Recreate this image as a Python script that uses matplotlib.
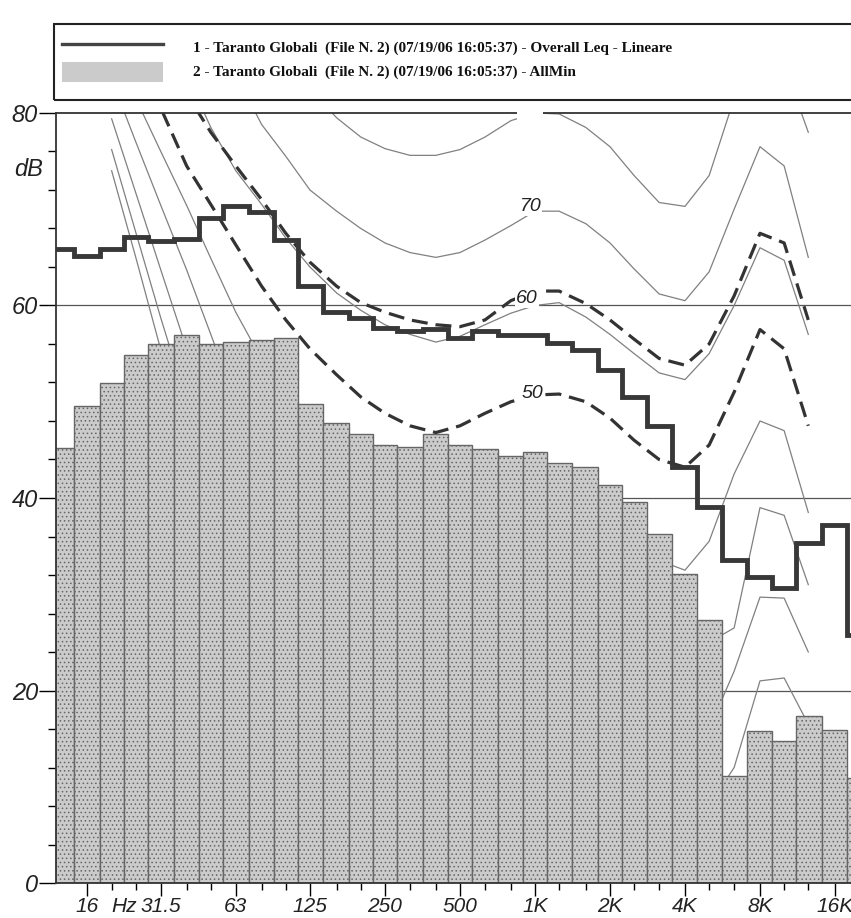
import matplotlib.pyplot as plt
import numpy as np
from matplotlib.patches import Rectangle
from matplotlib.lines import Line2D
from matplotlib.ticker import FixedLocator, NullFormatter

# third-octave bands (nominal centres, Hz)
bands = [12.5, 16, 20, 25, 31.5, 40, 50, 63, 80, 100, 125, 160, 200, 250, 315,
         400, 500, 630, 800, 1000, 1250, 1600, 2000, 2500, 3150, 4000, 5000,
         6300, 8000, 10000, 12500, 16000, 20000]

# 2 - AllMin (bars), dB
allmin = [45.2, 49.6, 51.9, 54.9, 56.0, 56.9, 56.0, 56.2, 56.4, 56.6, 49.8, 47.8,
          46.6, 45.5, 45.3, 46.7, 45.5, 45.1, 44.4, 44.8, 43.6, 43.2, 41.3, 39.6,
          36.3, 32.1, 27.3, 11.1, 15.8, 14.8, 17.4, 15.9, 10.9]

# 1 - Overall Leq - Lineare (step line), dB
leq = [65.9, 65.1, 65.9, 67.1, 66.7, 66.9, 69.1, 70.3, 69.7, 66.8, 62.0, 59.3,
       58.7, 57.7, 57.4, 57.6, 56.6, 57.3, 56.9, 56.9, 56.1, 55.4, 53.3, 50.5,
       47.5, 43.2, 39.1, 33.6, 31.8, 30.6, 35.3, 37.2, 25.8]

# equal loudness contours
iso_f = [20, 25, 31.5, 40, 50, 63, 80, 100, 125, 160, 200, 250, 315, 400, 500,
         630, 800, 1000, 1250, 1600, 2000, 2500, 3150, 4000, 5000, 6300, 8000,
         10000, 12500]
ph0 = [74, 65, 55.4, 48, 42, 36.5, 31, 26.5, 22.5, 18.5, 15, 12, 9.5, 7.5, 6, 5,
       4.5, 4, 4, 3, 0.5, -1.5, -3, -3.5, -1.5, 3, 10, 11.5, 8]
ph10 = [76.2, 67.6, 58.7, 50, 44, 38.5, 34, 30, 26.5, 23.5, 21, 19, 17.5, 16, 15,
        14.5, 14, 14, 14, 13, 10.5, 8.5, 6.5, 6, 8, 12, 21, 21.3, 16.5]
ph20 = [79.4, 71.7, 63.7, 55.5, 49, 43, 38, 34, 31, 28.5, 27, 25.5, 24.5, 24, 23,
        22.5, 22, 22, 22, 21, 19, 17, 15, 14.5, 16, 22, 29.7, 29.6, 24]
ph30 = [83.5, 77, 70.4, 63.7, 57, 50, 45.5, 42, 39.5, 37.5, 36, 34.5, 33.5, 33,
        32.5, 32, 31.5, 31, 31, 30.5, 28.5, 26, 24, 23.5, 25, 26.5, 39, 38.2, 31]
ph40 = [87, 81.5, 76, 70.4, 64.9, 59.3, 54.4, 51, 48.5, 46.5, 45, 43.5, 42.5, 41.5,
        41, 40.5, 40.2, 40, 40.5, 40, 38, 35.5, 33.5, 32.5, 35.5, 42.5, 48, 47, 38.5]
ph60 = [99, 94, 89, 84, 78.5, 74, 70.5, 67, 64, 61.3, 59.5, 58, 57, 56.2, 56.8, 58,
        59.2, 60, 60.3, 58.8, 57, 55, 53, 52.3, 55, 60, 66, 64.7, 57]
ph70 = [105, 100, 95, 91, 87.5, 84, 78.8, 75.5, 72, 69.8, 68, 66.5, 65.5, 65, 65.5,
        66.8, 68.3, 69.8, 69.8, 68.5, 66.5, 63.8, 61.2, 60.5, 63.5, 70, 76.5, 74.5, 65]
ph80 = [120, 115, 110, 105, 100, 95, 91, 86.5, 82.5, 79.5, 77.5, 76.3, 75.6, 75.6,
        76.2, 77.5, 79.2, 80, 79.9, 78.5, 76.5, 73.5, 70.7, 70.3, 73.5, 81.5, 87, 85, 78]
dash50 = [95, 87.5, 80.5, 74.5, 70.5, 66.3, 62, 58.5, 55.5, 52.8, 50.5, 48.8, 47.5,
          46.8, 47.5, 48.8, 50, 50.7, 50.8, 50, 48.3, 46, 44, 43.2, 45.5, 51, 57.5,
          55.5, 47.5]
dash60 = [100, 94, 89, 82, 78, 74.5, 71, 67.5, 64.5, 62, 60.3, 59.3, 58.5, 58, 57.8,
          58.5, 60.5, 61.5, 61.5, 60.2, 58.5, 56.5, 54.5, 53.8, 56, 61, 67.5, 66.5, 58.5]

major_f = [16, 31.5, 63, 125, 250, 500, 1000, 2000, 4000, 8000, 16000]
major_lbl = ['16', '31.5', '63', '125', '250', '500', '1K', '2K', '4K', '8K', '16K']

W, H = 851, 918
fig = plt.figure(figsize=(W / 100, H / 100), dpi=100)
ax = fig.add_axes([56 / W, 1 - 883 / H, 1 - 56 / W, (883 - 113) / H])
ax.set_xscale('log')
ax.set_xlim(11.96, 18550)
ax.set_ylim(0, 80)

# band edges = geometric midpoints between centres
b = np.array(bands)
mid = np.sqrt(b[:-1] * b[1:])
edges = np.concatenate([[b[0] ** 2 / mid[0]], mid, [b[-1] ** 2 / mid[-1]]])

for yv in (20, 40, 60):
    ax.axhline(yv, color='#555555', lw=0.9, zorder=0.5)

thin_style = dict(color='#808080', lw=0.9, zorder=1)
for c in (ph0, ph10, ph20, ph30, ph40, ph60, ph70, ph80):
    ax.plot(iso_f, c, **thin_style)

plt.rcParams['hatch.color'] = '#8f8f8f'
plt.rcParams['hatch.linewidth'] = 0.6
ax.bar(edges[:-1], allmin, width=np.diff(edges), align='edge',
       facecolor='#cbcbcb', edgecolor='#666666', linewidth=1.0, hatch='....',
       zorder=2)

for c in (dash50, dash60):
    ax.plot(iso_f, c, color='#333333', lw=2.3, dashes=(5, 2.5), zorder=3)

ax.stairs(leq, edges, color='#383838', lw=3.5, zorder=4, baseline=None)

lbl_style = dict(fontsize=14, style='italic', family='Liberation Sans',
                 ha='center', va='center', zorder=5, color='#222222',
                 bbox=dict(facecolor='white', edgecolor='none', pad=0.5))
ax.text(960, 70.3, '70', **lbl_style)
ax.text(930, 60.7, '60', **lbl_style)
ax.text(980, 50.9, '50', **lbl_style)
# the "80" label sits on the frame: only its white box shows
ax.text(955, 80.3, '80', fontsize=14, ha='center', va='center', color='white',
        zorder=6, clip_on=False,
        bbox=dict(facecolor='white', edgecolor='none', pad=0.5))

ax.xaxis.set_major_locator(FixedLocator(major_f))
ax.set_xticklabels(major_lbl)
ax.xaxis.set_minor_locator(FixedLocator([f for f in bands[1:] if f not in major_f]))
ax.xaxis.set_minor_formatter(NullFormatter())
ax.set_yticks([0, 20, 40, 60, 80])
ax.yaxis.set_minor_locator(FixedLocator([v for v in range(4, 80, 4) if v % 20]))

ax.tick_params(axis='x', which='major', length=9, width=1, labelsize=15, pad=1)
ax.tick_params(axis='x', which='minor', length=5, width=1)
ax.tick_params(axis='y', which='major', length=12, width=1, labelsize=17, pad=1)
ax.tick_params(axis='y', which='minor', length=6, width=1)
for t in ax.get_xticklabels() + ax.get_yticklabels():
    t.set_fontstyle('italic')
    t.set_family('Liberation Sans')
    t.set_color('#222222')

ax.spines['right'].set_visible(False)
for s in ('left', 'bottom', 'top'):
    ax.spines[s].set_linewidth(1.3)
    ax.spines[s].set_color('#333333')

ax.annotate('Hz', xy=(22.5, 0), xycoords=('data', 'axes fraction'),
            xytext=(0, -10), textcoords='offset points', fontsize=15,
            style='italic', family='Liberation Sans', ha='center', va='top',
            color='#222222')
fig.text(29 / W, 1 - 170 / H, 'dB', fontsize=17, style='italic',
         family='Liberation Sans', ha='center', va='center', color='#222222')

# legend box
fig.patches.append(Rectangle((54 / W, 1 - 100 / H), 1.0, 76 / H,
                             transform=fig.transFigure, fill=False,
                             edgecolor='#222222', lw=1.5))
fig.lines.append(Line2D([62 / W, 163 / W], [1 - 44 / H] * 2,
                        transform=fig.transFigure, color='#444444', lw=2.4))
fig.patches.append(Rectangle((62 / W, 1 - 82 / H), 101 / W, 20 / H,
                             transform=fig.transFigure, facecolor='#cbcbcb',
                             edgecolor='none', hatch='....'))
leg_style = dict(fontsize=11, weight='bold', family='Liberation Serif',
                 va='center', ha='left', color='#111111')
fig.text(193 / W, 1 - 48 / H,
         '1 - Taranto Globali  (File N. 2) (07/19/06 16:05:37) - Overall Leq - Lineare',
         **leg_style)
fig.text(193 / W, 1 - 72 / H,
         '2 - Taranto Globali  (File N. 2) (07/19/06 16:05:37) - AllMin',
         **leg_style)

fig.savefig('out.png', dpi=100)
